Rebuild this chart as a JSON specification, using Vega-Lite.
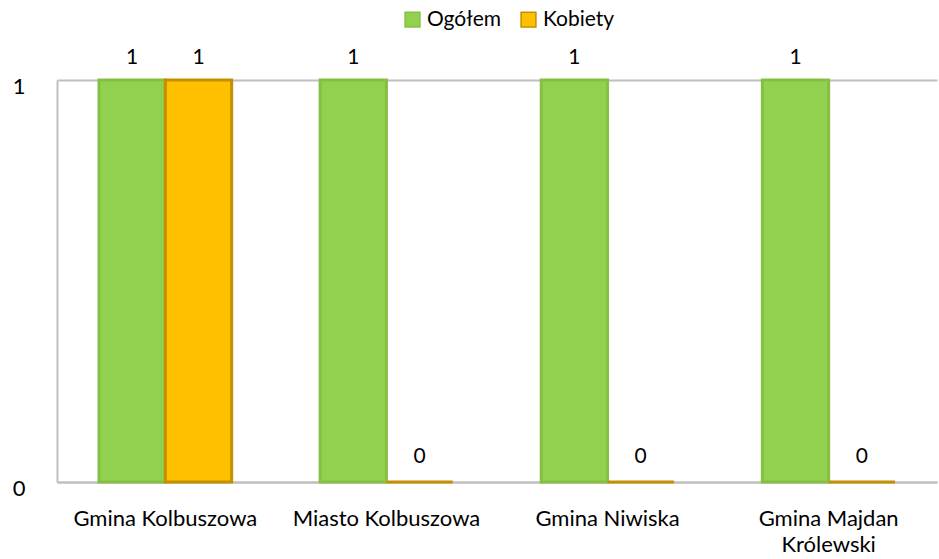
{
  "$schema": "https://vega.github.io/schema/vega-lite/v6.json",
  "autosize": {"type": "none"},
  "width": 880,
  "height": 402,
  "padding": {"left": 57, "right": 2, "top": 80, "bottom": 77},
  "config": {
    "font": "Lato",
    "view": {"stroke": null},
    "axis": {"labelFont": "Lato", "labelFontSize": 22, "labelColor": "#000000"},
    "legend": {"labelFont": "Lato", "labelFontSize": 21, "labelColor": "#000000"}
  },
  "data": {
    "values": [
      {"gmina": "Gmina Kolbuszowa", "seria": "Ogółem", "wartosc": 1},
      {"gmina": "Gmina Kolbuszowa", "seria": "Kobiety", "wartosc": 1},
      {"gmina": "Miasto Kolbuszowa", "seria": "Ogółem", "wartosc": 1},
      {"gmina": "Miasto Kolbuszowa", "seria": "Kobiety", "wartosc": 0},
      {"gmina": "Gmina Niwiska", "seria": "Ogółem", "wartosc": 1},
      {"gmina": "Gmina Niwiska", "seria": "Kobiety", "wartosc": 0},
      {"gmina": "Gmina Majdan Królewski", "seria": "Ogółem", "wartosc": 1},
      {"gmina": "Gmina Majdan Królewski", "seria": "Kobiety", "wartosc": 0}
    ]
  },
  "encoding": {
    "x": {
      "field": "gmina", "type": "nominal", "sort": null, "title": null,
      "scale": {"paddingInner": 0.4, "paddingOuter": 0.19},
      "axis": {
        "labelAngle": 0, "domainColor": "#bfbfbf", "domainWidth": 2, "ticks": false,
        "labelPadding": 26, "labelLimit": 300, "labelLineHeight": 26,
        "labelExpr": "datum.label == 'Gmina Majdan Królewski' ? ['Gmina Majdan', 'Królewski'] : datum.label"
      }
    },
    "xOffset": {"field": "seria", "type": "nominal", "sort": ["Ogółem", "Kobiety"]},
    "y": {
      "field": "wartosc", "type": "quantitative", "title": null,
      "scale": {"domain": [0, 1]},
      "axis": {
        "values": [0, 1], "format": "d", "ticks": false, "domainColor": "#bfbfbf", "domainWidth": 2,
        "gridColor": "#bfbfbf", "gridWidth": 2, "labelPadding": 32, "labelOffset": 6
      }
    }
  },
  "layer": [
    {
      "mark": {"type": "bar", "strokeWidth": 3},
      "encoding": {
        "color": {
          "field": "seria", "type": "nominal", "sort": ["Ogółem", "Kobiety"],
          "scale": {"domain": ["Ogółem", "Kobiety"], "range": ["#92D050", "#FFC000"]},
          "legend": {
            "title": null, "orient": "none", "direction": "horizontal", "symbolType": "square",
            "symbolSize": 220, "columnPadding": 16, "legendX": 345, "legendY": -71
          }
        },
        "stroke": {
          "field": "seria", "type": "nominal",
          "scale": {"domain": ["Ogółem", "Kobiety"], "range": ["#86c043", "#c49000"]},
          "legend": null
        }
      }
    },
    {
      "transform": [{"filter": "datum.wartosc == 1"}],
      "mark": {"type": "text", "dy": -22, "fontSize": 21, "font": "Lato", "color": "#000000"},
      "encoding": {"text": {"field": "wartosc", "type": "quantitative"}}
    },
    {
      "transform": [{"filter": "datum.wartosc == 0"}],
      "mark": {"type": "text", "dy": -25, "fontSize": 21, "font": "Lato", "color": "#000000"},
      "encoding": {"text": {"field": "wartosc", "type": "quantitative"}}
    }
  ]
}
